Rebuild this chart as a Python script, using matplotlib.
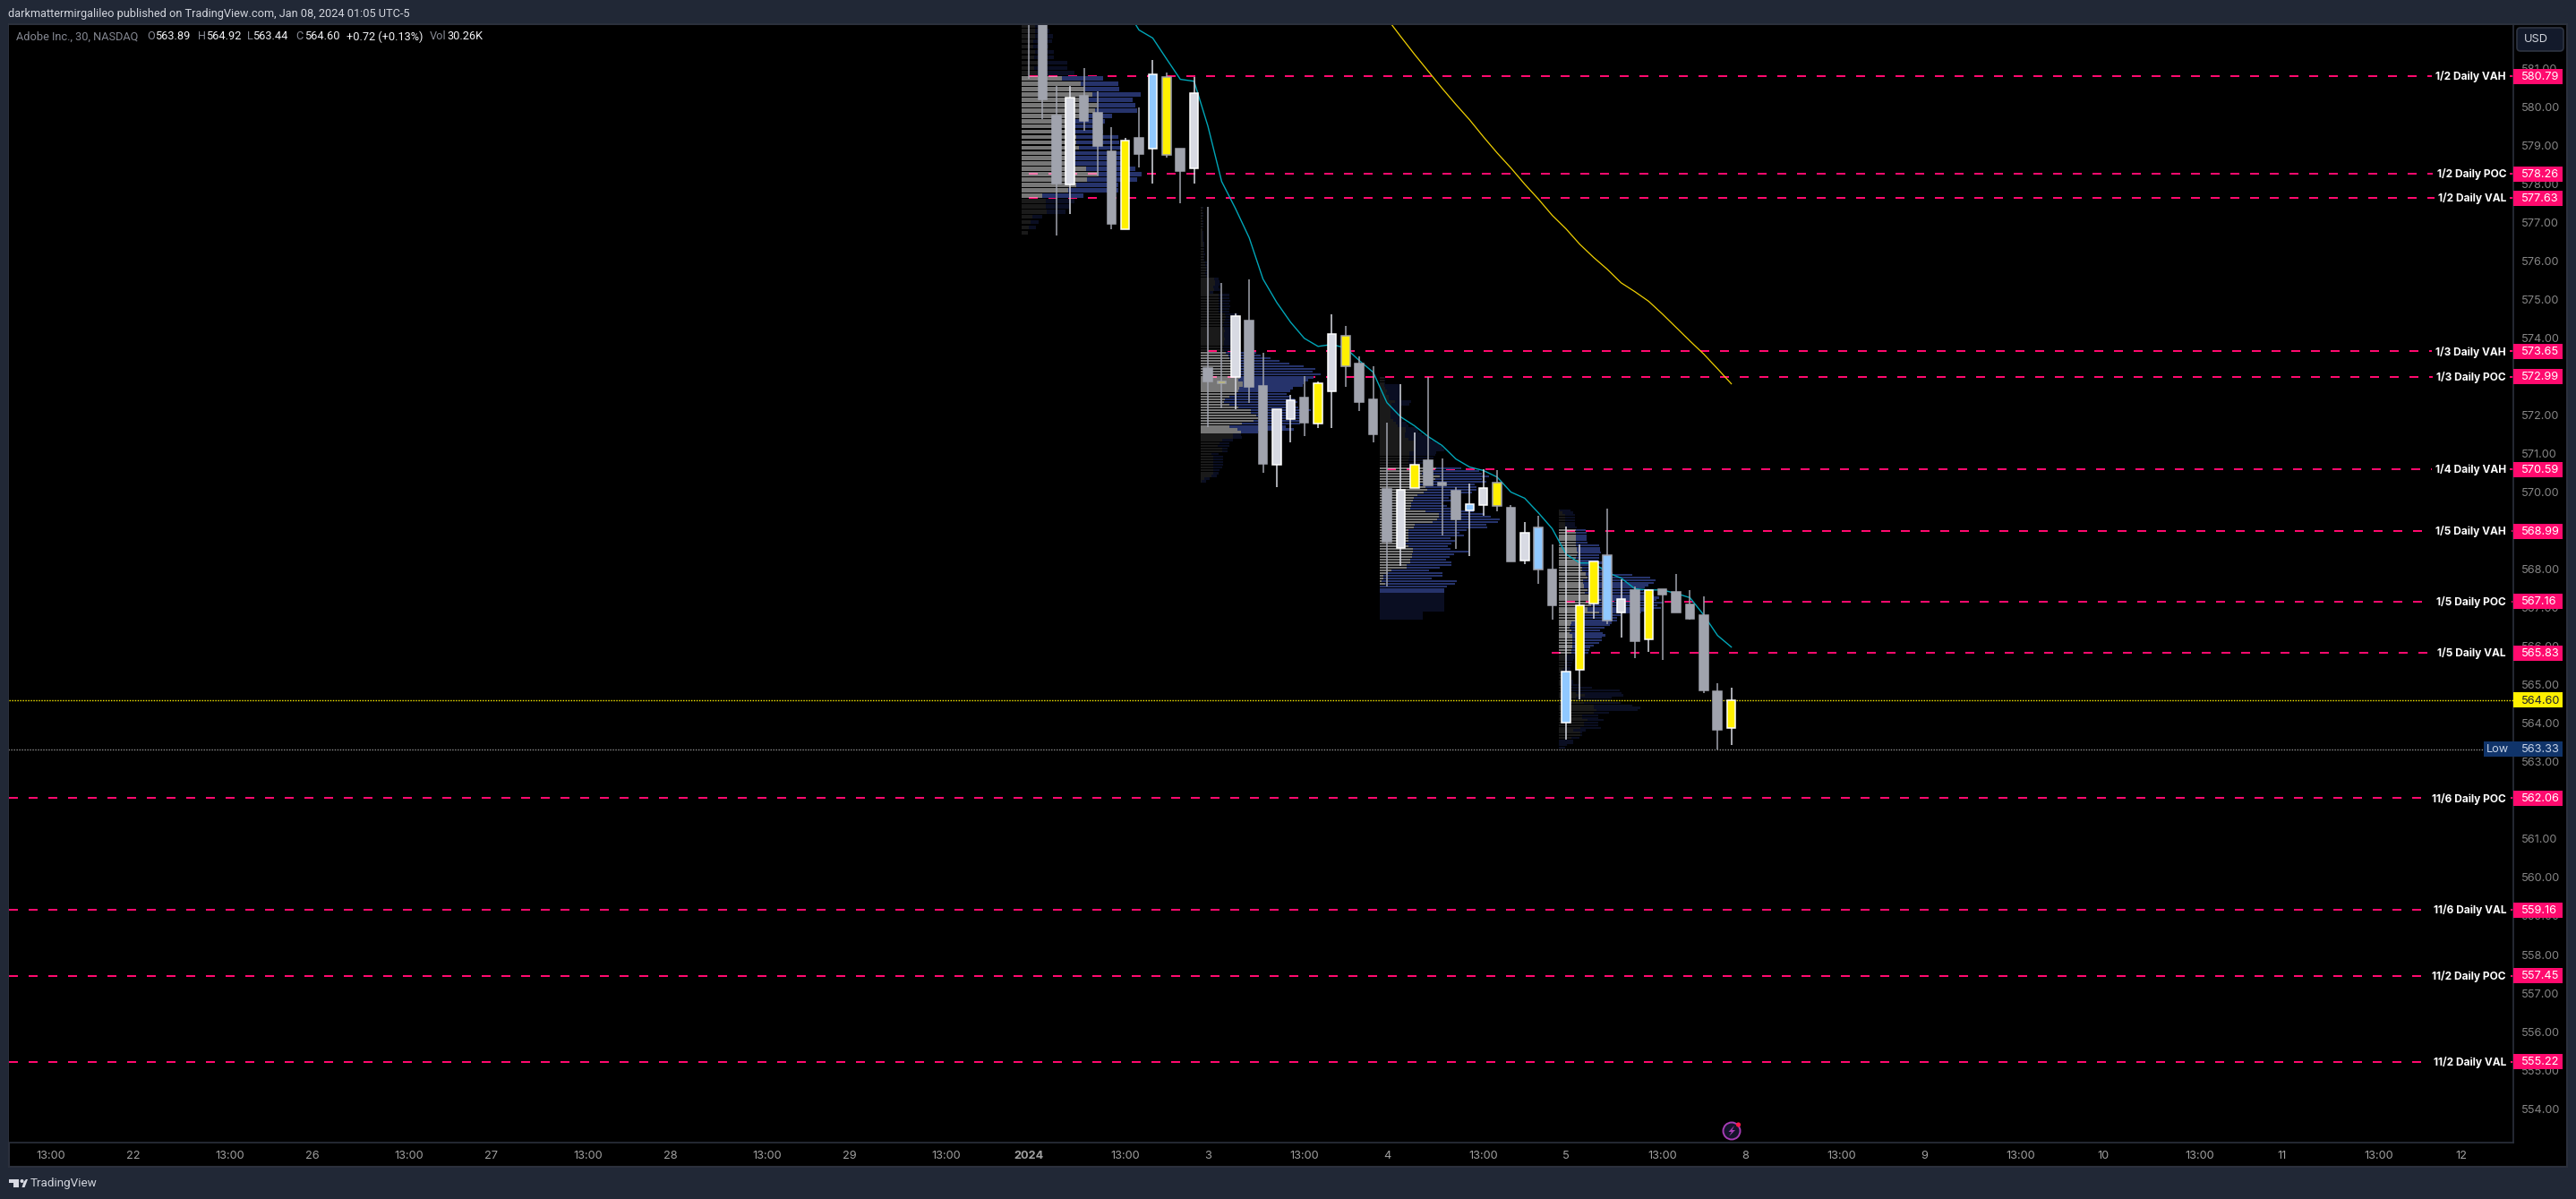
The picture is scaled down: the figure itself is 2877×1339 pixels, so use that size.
import numpy as np
import matplotlib
matplotlib.use('Agg')
import matplotlib.pyplot as plt
from matplotlib.patches import Rectangle, Polygon, Circle, FancyBboxPatch
from matplotlib.transforms import IdentityTransform, blended_transform_factory

W, H = 2877, 1339
BAR_PX = 200 / 13  # 13 bars per session, 200 px per session

# ohlc, bar 0 is the 09:30 bar of Jan 2
opens = [583.6, 582.9, 579.76, 577.98, 580.29, 579.85, 578.83, 576.83, 579.20, 578.90, 580.78, 578.90, 578.39,
         573.23, 572.88, 572.98, 574.45, 572.76, 570.72, 571.89, 572.46, 571.77, 572.61, 574.06, 573.34, 572.41,
         570.09, 568.56, 570.11, 570.83, 570.25, 570.04, 569.52, 569.67, 570.25, 569.60, 568.22, 569.08, 568.00,
         564.01, 565.40, 567.10, 568.36, 566.87, 567.46, 566.17, 567.49, 567.40, 567.09, 566.81, 564.82, 563.89]
highs = [584.0, 583.1, 580.53, 580.54, 581.01, 580.40, 579.48, 579.20, 579.99, 581.20, 580.89, 578.92, 580.78,
         577.41, 575.43, 574.64, 575.53, 573.62, 572.15, 572.53, 573.01, 572.87, 574.62, 574.30, 573.53, 573.27,
         571.79, 572.79, 571.55, 572.99, 570.88, 570.14, 570.21, 570.60, 570.58, 569.67, 569.23, 569.39, 568.65,
         569.11, 568.63, 568.20, 569.56, 567.74, 567.56, 567.49, 567.49, 567.88, 567.46, 567.30, 565.05, 564.92]
lows = [580.72, 579.68, 576.65, 577.21, 579.37, 578.22, 576.81, 576.83, 578.43, 578.00, 578.69, 577.49, 578.00,
        571.68, 572.18, 572.14, 572.32, 570.49, 570.14, 571.30, 571.46, 571.67, 571.67, 572.74, 572.11, 571.30,
        567.56, 568.09, 570.11, 570.18, 568.88, 568.53, 568.35, 569.39, 569.49, 568.21, 568.12, 567.63, 566.68,
        563.58, 564.63, 566.72, 566.58, 566.23, 565.70, 565.86, 565.65, 566.88, 566.70, 564.79, 563.33, 563.44]
closes = [583.2, 580.20, 578.00, 580.24, 579.64, 578.97, 576.97, 579.13, 578.78, 580.85, 578.76, 578.34, 580.35,
          572.88, 572.83, 574.57, 572.74, 570.74, 572.15, 572.38, 571.81, 572.83, 574.10, 573.26, 572.34, 571.51,
          568.72, 570.07, 570.71, 570.18, 570.18, 569.30, 569.69, 570.11, 569.63, 568.21, 568.95, 567.98, 567.07,
          565.34, 567.06, 568.20, 566.66, 567.23, 566.14, 567.46, 567.33, 566.88, 566.72, 564.86, 563.84, 564.60]
kinds = ['n', 'n', 'n', 'n', 'n', 'n', 'n', 'y', 'n', 'b', 'y', 'n', 'n',
         'n', 'y', 'n', 'n', 'n', 'n', 'n', 'n', 'y', 'n', 'y', 'n', 'n',
         'n', 'n', 'y', 'n', 'n', 'n', 'b', 'n', 'y', 'n', 'n', 'b', 'n',
         'b', 'y', 'y', 'b', 'n', 'n', 'y', 'n', 'n', 'n', 'n', 'n', 'y']

ema_fast_start = 7
ema_fast = [582.57, 581.99, 581.78, 581.24, 580.71, 580.66, 579.50, 578.06, 577.36, 576.60, 575.53, 574.92, 574.41,
            573.99, 573.78, 573.83, 573.74, 573.41, 573.11, 572.32, 571.95, 571.72, 571.44, 571.21, 570.86, 570.65,
            570.56, 570.39, 570.00, 569.84, 569.46, 569.05, 568.39, 568.16, 568.16, 567.91, 567.77, 567.49, 567.46,
            567.46, 567.37, 567.26, 566.81, 566.28, 565.98]
ema_slow_start = 26
ema_slow = [582.29, 581.82, 581.36, 580.92, 580.48, 580.06, 579.66, 579.22, 578.80, 578.41, 577.99, 577.60, 577.18,
            576.83, 576.43, 576.09, 575.78, 575.43, 575.20, 574.95, 574.62, 574.27, 573.92, 573.58, 573.20, 572.81]

# levels: price, label, first bar of the line
level_prices = [580.79, 578.26, 577.63, 573.65, 572.99, 570.59, 568.99, 567.16, 565.83, 562.06, 559.16, 557.45, 555.22]
level_names = ['1/2 Daily VAH', '1/2 Daily POC', '1/2 Daily VAL', '1/3 Daily VAH', '1/3 Daily POC', '1/4 Daily VAH',
               '1/5 Daily VAH', '1/5 Daily POC', '1/5 Daily VAL', '11/6 Daily POC', '11/6 Daily VAL',
               '11/2 Daily POC', '11/2 Daily VAL']
level_starts = [0, 0, 0, 13, 13, 26, 39, 39, 38, -74, -74, -74, -74]

# session volume profiles, rows listed from the top
p1_up = [15, 15, 15, 13, 13, 15, 14, 18, 14, 17,
         45, 66, 70, 79, 75, 84, 82, 69, 59, 59, 59, 61, 61, 64, 59, 59, 59, 72, 86, 73, 61, 52, 23,
         27, 27, 28, 12, 10, 8, 7]
p1_total = [25, 31, 35, 34, 30, 36, 36, 51, 51, 59,
            91, 108, 109, 133, 124, 127, 129, 101, 93, 89, 91, 108, 109, 119, 119, 119, 116, 127, 134, 129, 108, 108, 69,
            59, 54, 49, 23, 19, 16, 7]
p2_up = [2, 2, 2, 2, 2, 2, 2, 2, 2, 2, 2, 2, 2, 3, 3, 3, 3, 3, 3, 3, 5, 5, 6, 6, 5, 6, 15, 16, 16, 14, 15, 10,
         20, 20, 20, 20, 20, 20, 20, 27, 28, 27, 26, 25, 26, 27, 26, 26, 27, 26, 26, 25, 26,
         28, 31, 32, 35, 37, 41, 44, 42, 45, 44, 42, 47, 47, 43, 42, 39, 32, 27, 26, 32, 42, 56, 56, 62, 64, 59, 46, 32, 41, 45,
         36, 36, 24, 21, 19, 24, 24, 12, 14, 14, 14, 14, 14, 14, 14, 12, 4, 1]
p2_total = [3, 2, 3, 3, 2, 3, 3, 3, 2, 3, 3, 3, 3, 4, 4, 4, 4, 5, 4, 4, 7, 8, 7, 8, 7, 8, 20, 21, 22, 20, 22, 14,
            32, 32, 33, 32, 33, 32, 32, 42, 43, 38, 40, 38, 40, 42, 41, 40, 42, 40, 44, 40, 38,
            62, 67, 78, 88, 99, 115, 128, 125, 134, 126, 120, 115, 114, 103, 100, 96, 100, 105, 108, 99, 109, 123, 119, 114, 112, 111, 111, 95, 104, 64,
            45, 46, 36, 32, 32, 30, 30, 20, 25, 25, 25, 25, 24, 21, 20, 18, 10, 6]
p3_up = [5, 5, 5,
         5, 6, 8, 7, 10, 10, 17, 13, 12, 12, 12, 12, 12, 15, 18, 20, 29, 29, 28, 28, 32, 38, 38, 38, 38, 33, 33, 33, 32, 32, 32,
         63, 54, 47, 67, 62, 51, 44, 51, 53, 49, 42, 38, 37, 35, 35, 34, 51, 66, 66, 64, 59, 39, 38, 32, 32, 32, 32, 32, 29, 32, 37, 37,
         36, 36, 34, 34, 30, 30, 13, 9, 4, 4, 2, 6, 0, 0, 0,
         0, 0, 0, 0, 0, 0, 0, 0, 0, 0]
p3_total = [6, 6, 6,
            22, 22, 22, 22, 23, 23, 35, 33, 23, 23, 23, 23, 23, 25, 30, 32, 42, 43, 47, 55, 57, 63, 67, 70, 72, 63, 62, 60, 60, 60, 43,
            91, 111, 114, 122, 114, 119, 106, 108, 108, 103, 89, 77, 81, 69, 75, 79, 105, 117, 124, 134, 132, 119, 120, 97, 89, 94, 79, 84, 80, 76, 79, 99,
            83, 78, 74, 80, 80, 67, 55, 70, 70, 58, 86, 84, 75, 72, 72,
            72, 72, 72, 72, 72, 72, 72, 48, 48, 48]
p4_up = [1, 4, 7, 7, 7, 7, 7, 9,
         19, 19, 19, 19, 19, 19, 19, 20, 20, 21, 20, 19, 22, 22, 24, 26, 26,
         30, 30, 32, 27, 27, 28, 28, 32, 29, 36, 42, 47, 36, 36, 32, 32, 45, 24, 19, 18, 14, 13, 12, 14, 12, 15, 15, 15, 15, 15, 15, 14, 14,
         9, 7, 7, 7, 6, 6, 4, 4, 4, 4, 5, 6, 9, 14, 14, 19, 29, 19, 19, 28, 39, 39, 42, 39, 26, 26, 32, 28, 28, 24, 16, 24, 24, 14, 0, 0, 0, 0]
p4_total = [13, 16, 18, 18, 18, 18, 18, 20,
            30, 31, 31, 31, 31, 32, 45, 46, 46, 47, 45, 45, 44, 49, 43, 49, 49,
            60, 82, 102, 108, 106, 100, 96, 94, 99, 106, 112, 109, 117, 110, 114, 105, 92, 69, 65, 65, 59, 57, 51, 46, 49, 52, 48, 48, 45, 39, 35, 34, 33,
            17, 17, 16, 15, 14, 13, 13, 14, 14, 14, 16, 16, 24, 37, 68, 70, 72, 59, 59, 69, 82, 91, 88, 56, 44, 44, 50, 44, 44, 47, 30, 26, 26, 23, 16, 16, 9, 7]

profile_days = [0, 13, 26, 39]
profile_first_price = [582.11, 577.38, 572.97, 569.53]
profile_row_size = [0.138, 0.071, 0.0694, 0.0649]
profile_value_rows = [(10, 32), (53, 82), (34, 80), (8, 57)]
profile_ups = [p1_up, p2_up, p3_up, p4_up]
profile_totals = [p1_total, p2_total, p3_total, p4_total]

price_ticks = list(range(554, 582))
day_ticks = [-65, -52, -39, -26, -13, 0, 13, 26, 39, 52, 65, 78, 91, 104]
day_labels = ['22', '26', '27', '28', '29', '2024', '3', '4', '5', '8', '9', '10', '11', '12']
noon_ticks = [-71, -58, -45, -32, -19, -6, 7, 20, 33, 46, 59, 72, 85, 98]

plt.rcParams['font.family'] = ['Inter', 'DejaVu Sans']
plt.rcParams['lines.scale_dashes'] = False

FRAME = '#212836'
EDGE = '#2b303c'
PINK = '#ff0a6e'
YELLOW = '#fff000'

fig = plt.figure(figsize=(W / 100, H / 100), dpi=100, facecolor=FRAME)


def px(x, y):
    return x / W, 1 - y / H


def label(x, y, s, color='#d1d4dc', size=9.2, ha='left', weight='normal'):
    fx, fy = px(x, y)
    fig.text(fx, fy, s, color=color, fontsize=size, ha=ha, va='center', fontweight=weight, family='Roboto')


ident = IdentityTransform()
fig.add_artist(Rectangle((10, H - 1303), 2857, 1276, transform=ident, facecolor='black',
                         edgecolor=EDGE, linewidth=1.5, zorder=-1))

ax = fig.add_axes([10 / W, 1 - 1276 / H, 2797 / W, (1276 - 27.5) / H])
ax.set_facecolor('black')
ax.set_xlim((10 - 1149) / BAR_PX, (2807 - 1149) / BAR_PX)
ax.set_ylim(553.121, 582.129)
for side in ['top', 'left']:
    ax.spines[side].set_visible(False)
for side in ['bottom', 'right']:
    ax.spines[side].set_color(EDGE)
    ax.spines[side].set_linewidth(1.2)

ax.yaxis.tick_right()
ax.set_yticks(price_ticks)
ax.set_yticklabels(['%.2f' % p for p in price_ticks])
ax.tick_params(axis='y', length=0, pad=6.3, labelsize=9.2, labelcolor='#858585')
all_ticks = day_ticks + noon_ticks
ax.set_xticks(all_ticks)
ax.set_xticklabels(day_labels + ['13:00'] * len(noon_ticks))
ax.tick_params(axis='x', length=0, pad=6.2, labelsize=9.2, labelcolor='#a0a0a0')
ax.get_xticklabels()[5].set_fontweight('bold')

# dashed levels, drawn below the profiles
right_x = (2807 - 1149) / BAR_PX
for price, first in zip(level_prices, level_starts):
    ax.plot([first - 0.03, right_x], [price, price], color=PINK, linewidth=1.45,
            linestyle=(0, (7.2, 8.64)), dash_capstyle='butt', zorder=1.5)

# volume profiles
vol_scale = 1 / BAR_PX
for day, first, size, (va_top, va_bottom), ups, totals in zip(profile_days, profile_first_price, profile_row_size,
                                                              profile_value_rows, profile_ups, profile_totals):
    ups = np.array(ups, dtype=float)
    totals = np.array(totals, dtype=float)
    rows = first - size * np.arange(len(ups))
    inside = (np.arange(len(ups)) >= va_top) & (np.arange(len(ups)) <= va_bottom)
    left = day - 8 / BAR_PX
    grey_col = [(1, 1, 1, 0.47) if v else (1, 1, 1, 0.105) for v in inside]
    blue_col = ['#26336b' if v else '#0a0e22' for v in inside]
    ax.barh(rows, ups * vol_scale, left=left, height=size * 0.78, color=grey_col, linewidth=0, zorder=2)
    ax.barh(rows, (totals - ups) * vol_scale, left=left + ups * vol_scale, height=size * 0.78,
            color=blue_col, linewidth=0, zorder=2)

# moving averages
ax.plot(np.arange(len(ema_slow)) + ema_slow_start, ema_slow, color='#f0d000', linewidth=0.9, zorder=3)
ax.plot(np.arange(len(ema_fast)) + ema_fast_start, ema_fast, color='#00a6b8', linewidth=1.0, zorder=3)

# candles
bar_x = np.arange(len(opens))
o = np.array(opens)
c = np.array(closes)
up = c >= o
fills = []
for is_up, kind in zip(up, kinds):
    if kind == 'y':
        fills.append(YELLOW)
    elif kind == 'b':
        fills.append('#90c8ff')
    else:
        fills.append('#d8dae3' if is_up else '#a0a3ad')
edges = ['#ffffff' if u else '#a0a3ad' for u in up]
wick_col = ['#d8dae3' if u else '#a0a3ad' for u in up]
ax.vlines(bar_x, lows, highs, colors=wick_col, linewidth=1.1, zorder=4)
ax.bar(bar_x, np.abs(c - o), bottom=np.minimum(o, c), width=9.6 / BAR_PX, color=fills, edgecolor=edges,
       linewidth=1.1, zorder=5)

# last price and session low
ax.axhline(564.60, color=YELLOW, linewidth=1.0, linestyle=(0, (1.0, 1.15)), zorder=3)
ax.plot([-74.1, (2774 - 1149) / BAR_PX], [563.33, 563.33], color='#8d8d8d', linewidth=1.0,
        linestyle=(0, (1.0, 1.15)), zorder=3)

# tags on the price scale
mixed = blended_transform_factory(ident, ax.transData)
tag_h = 17 / 43.04


def tag(x0, price, text, face, color):
    ax.add_patch(Rectangle((x0, price - tag_h / 2), 2862 - x0, tag_h, transform=mixed, facecolor=face,
                           linewidth=0, clip_on=False, zorder=10))
    ax.text(2816, price - 0.015, text, transform=mixed, color=color, fontsize=9.2, va='center',
            clip_on=False, zorder=11)


for price, name in zip(level_prices, level_names):
    tag(2807, price, '%.2f' % price, PINK, 'white')
    ax.text(2799, price - 0.02, name, transform=mixed, color='white', fontsize=8.6, fontweight='bold',
            ha='right', va='center', zorder=9, clip_on=False,
            bbox=dict(facecolor='black', edgecolor='none', pad=3.0))
tag(2807, 564.60, '564.60', YELLOW, '#1d2230')
tag(2774, 563.33, '563.33', '#10346a', '#c6d2e6')
ax.text(2789, 563.32, 'Low', transform=mixed, color='#c6d2e6', fontsize=9.2, ha='center', va='center',
        clip_on=False, zorder=11)

# header
label(9, 15, 'darkmattermirgalileo published on TradingView.com, Jan 08, 2024 01:05 UTC-5')
GREY = '#858892'
BRIGHT = '#f0f1f4'
label(18, 41, 'Adobe Inc., 30, NASDAQ', GREY)
for x, s in [(164, 'O'), (221, 'H'), (276, 'L'), (330, 'C'), (480, 'Vol')]:
    label(x, 41, s, GREY)
for x, s in [(173, '563.89'), (230, '564.92'), (282, '563.44'), (340, '564.60'), (387, '+0.72 (+0.13%)'),
             (499, '30.26K')]:
    label(x, 41, s, BRIGHT)

# USD button
fig.add_artist(FancyBboxPatch((2814, H - 54), 46, 20, boxstyle='round,pad=3,rounding_size=4', transform=ident,
                              facecolor='#131a2b', edgecolor='#2e3442', linewidth=1.2, zorder=3))
t = fig.text(*px(2832.5, 44), 'USD', color='#d1d4dc', fontsize=9.2, ha='center', va='center', zorder=4)

# footer logo
logo = [[(10, 1317), (21, 1317), (21, 1326), (15, 1326), (15, 1321), (10, 1321)],
        [(24.5, 1326), (26.5, 1320), (29, 1317), (31, 1317), (27.5, 1326)]]
for pts in logo:
    fig.add_artist(Polygon([(x, H - y) for x, y in pts], closed=True, transform=ident, facecolor='#d8dae3',
                           linewidth=0, zorder=3))
fig.add_artist(Circle((24.5, H - 1319), 2, transform=ident, facecolor='#d8dae3', linewidth=0, zorder=3))
label(34, 1322, 'TradingView', '#d1d4dc', 9.7)

# lightning badge over the time scale
fig.add_artist(Circle((1934, H - 1263), 9.5, transform=ident, facecolor='#14132b', edgecolor='#a63cb4',
                      linewidth=1.4, zorder=3))
bolt = [(1937, 1257), (1930.5, 1264), (1934, 1264), (1931, 1269), (1938, 1262), (1934.5, 1262)]
fig.add_artist(Polygon([(x, H - y) for x, y in bolt], closed=True, transform=ident, facecolor='#a63cb4',
                       linewidth=0, zorder=4))
fig.add_artist(Circle((1941.5, H - 1256), 2.6, transform=ident, facecolor='#ff1744', linewidth=0, zorder=5))

fig.savefig('out.png', dpi=100, facecolor=fig.get_facecolor())
